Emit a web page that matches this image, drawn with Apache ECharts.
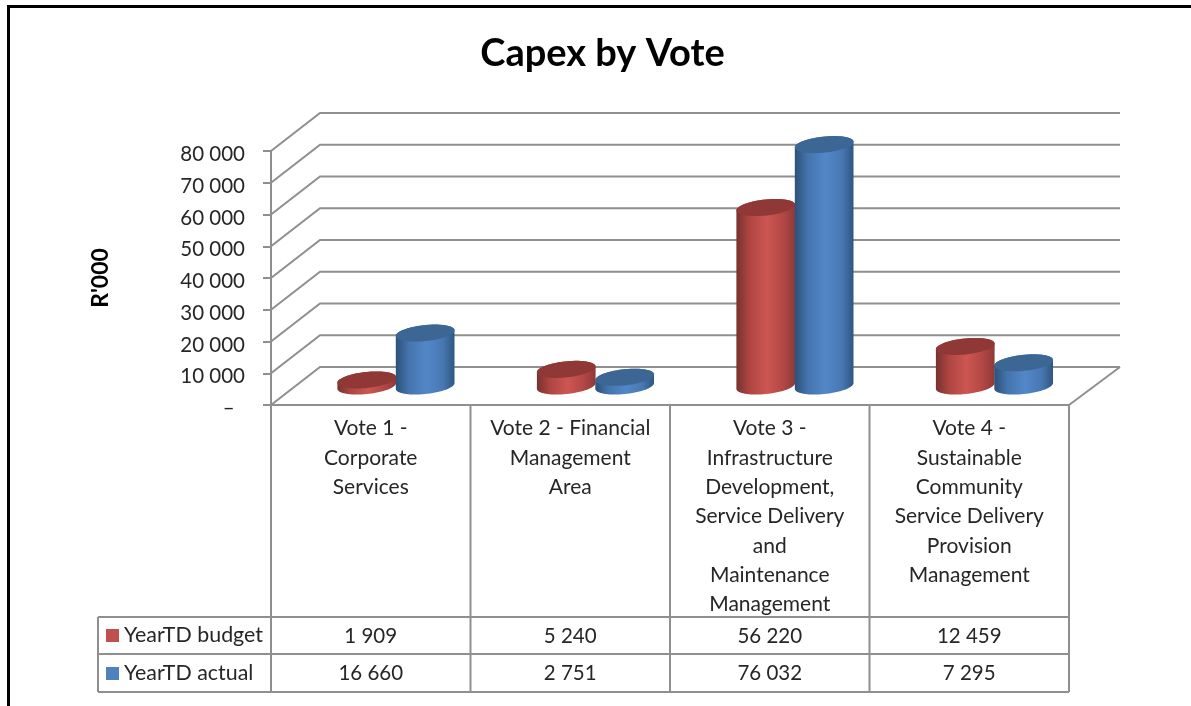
<!DOCTYPE html>
<html>
<head>
<meta charset="utf-8">
<title>Capex by Vote</title>
<script src="https://cdn.jsdelivr.net/npm/echarts@6/dist/echarts.min.js"></script>
<style>
html,body{margin:0;padding:0;background:#fff;}
#chart{width:1191px;height:706px;}
</style>
</head>
<body>
<div id="chart"></div>
<script>
// Vote categories, as wrapped in the table header cells
var categories = [
  'Vote 1 -\nCorporate\nServices',
  'Vote 2 - Financial\nManagement\nArea',
  'Vote 3 -\nInfrastructure\nDevelopment,\nService Delivery\nand\nMaintenance\nManagement',
  'Vote 4 -\nSustainable\nCommunity\nService Delivery\nProvision\nManagement'
];
var budget = [1909, 5240, 56220, 12459];
var actual = [16660, 2751, 76032, 7295];
var yTicks = [0, 10000, 20000, 30000, 40000, 50000, 60000, 70000, 80000];
var seriesNames = ['YearTD budget', 'YearTD actual'];

var FONT = 'Lato, "Open Sans", sans-serif';
var GRID_COLOR = '#8f8f8f';
var TEXT_COLOR = '#262626';

// Oblique projection of the chart box: how far the back wall sits from the front plane
var DEPTH_X = 49, DEPTH_Y = -38;
// Table rows hanging below the category header cells (pixels below the floor line)
var ROW_LINES = [212, 249, 287];
var ROW_CENTRES = [231, 268.5];
var TABLE_LEFT_GAP = 173;

// Cylinder look
var RX = 29.5, RY = 8, TILT = -6 * Math.PI / 180;
var RED = {
  top: '#8f3836',
  stops: [[0, '#773130'], [0.22, '#ae4541'], [0.52, '#cd5651'], [0.8, '#b14744'], [1, '#8e3a38']]
};
var BLUE = {
  top: '#3c6694',
  stops: [[0, '#2d5078'], [0.22, '#4474ad'], [0.52, '#5287c8'], [0.8, '#4878b3'], [1, '#2f5681']]
};

function fmt(v) {
  return String(v).replace(/\B(?=(\d{3})+$)/g, ' ');
}

function bandEdges(api, i) {
  var c = api.coord([i, 0]);
  var w = api.size([1, 0])[0];
  return { left: c[0] - w / 2, right: c[0] + w / 2, centre: c[0], y: c[1] };
}

function ellipsePoint(cx, cy, t) {
  var ex = RX * Math.cos(t), ey = RY * Math.sin(t);
  return [
    cx + ex * Math.cos(TILT) - ey * Math.sin(TILT),
    cy + ex * Math.sin(TILT) + ey * Math.cos(TILT)
  ];
}

function cylinderRenderer(look, side) {
  return function (params, api) {
    var base = api.coord([api.value(0), 0]);
    var head = api.coord([api.value(0), api.value(1)]);
    var cx = base[0] + DEPTH_X / 2 + 0.7 + side * RX * 0.99;
    var by = base[1] + DEPTH_Y / 2;
    var ty = head[1] + DEPTH_Y / 2;
    var t0 = Math.atan2(-RY * Math.sin(TILT), RX * Math.cos(TILT));
    var body = [], cap = [], n = 36, k;
    for (k = 0; k <= n; k++) body.push(ellipsePoint(cx, by, t0 + Math.PI * k / n));
    for (k = 0; k <= n; k++) body.push(ellipsePoint(cx, ty, t0 + Math.PI + Math.PI * k / n));
    for (k = 0; k < n * 2; k++) cap.push(ellipsePoint(cx, ty, Math.PI * k / n));
    return {
      type: 'group',
      children: [
        {
          type: 'polygon',
          shape: { points: body },
          style: {
            fill: {
              type: 'linear', x: 0, y: 0, x2: 1, y2: 0,
              colorStops: look.stops.map(function (s) { return { offset: s[0], color: s[1] }; })
            }
          }
        },
        { type: 'polygon', shape: { points: cap }, style: { fill: look.top } }
      ]
    };
  };
}

var lineStyle = { stroke: GRID_COLOR, lineWidth: 2, fill: null };

// One gridline per tick: front edge, receding side wall, back wall
function renderGridline(params, api) {
  var v = api.value(0);
  var a = bandEdges(api, 0), b = bandEdges(api, categories.length - 1);
  var y = api.coord([0, v])[1];
  var pts = [[a.left, y], [a.left + DEPTH_X, y + DEPTH_Y], [b.right + DEPTH_X + 2, y + DEPTH_Y]];
  var children = [{ type: 'polyline', shape: { points: pts }, style: lineStyle }];
  if (v === 0) {
    children.push({
      type: 'polyline',
      shape: { points: [[b.right, y], [b.right + DEPTH_X + 2, y + DEPTH_Y]] },
      style: lineStyle
    });
  }
  return { type: 'group', children: children };
}

// Data table: cell borders below the floor of the chart
function renderTableFrame(params, api) {
  var a = bandEdges(api, 0), b = bandEdges(api, categories.length - 1);
  var y0 = a.y, children = [];
  function seg(x1, y1, x2, y2) {
    children.push({ type: 'line', shape: { x1: x1, y1: y1, x2: x2, y2: y2 }, style: lineStyle });
  }
  categories.forEach(function (c, i) {
    var e = bandEdges(api, i);
    seg(e.left, y0, e.left, y0 + ROW_LINES[2]);
  });
  seg(b.right, y0, b.right, y0 + ROW_LINES[2]);
  var tableLeft = a.left - TABLE_LEFT_GAP;
  seg(tableLeft, y0 + ROW_LINES[0], tableLeft, y0 + ROW_LINES[2]);
  ROW_LINES.forEach(function (d) { seg(tableLeft, y0 + d, b.right, y0 + d); });
  return { type: 'group', children: children };
}

// Data table: one value cell per [category, row, value]
function renderTableCell(params, api) {
  var e = bandEdges(api, api.value(0));
  return {
    type: 'text',
    style: {
      x: e.centre,
      y: e.y + ROW_CENTRES[api.value(1)],
      text: fmt(api.value(2)),
      align: 'center',
      verticalAlign: 'middle',
      fill: TEXT_COLOR,
      font: '20.5px ' + FONT
    }
  };
}

var cells = [];
budget.forEach(function (v, i) { cells.push([i, 0, v]); });
actual.forEach(function (v, i) { cells.push([i, 1, v]); });

var chart = echarts.init(document.getElementById('chart'), null, { renderer: 'canvas' });
chart.setOption({
  animation: false,
  backgroundColor: '#fff',
  title: {
    text: 'Capex by Vote',
    left: 597.5,
    top: 30,
    textAlign: 'center',
    textStyle: { fontFamily: FONT, fontSize: 38, fontWeight: 'bold', color: '#000' }
  },
  legend: {
    orient: 'vertical',
    left: 106,
    top: 625,
    padding: 0,
    itemWidth: 13,
    itemHeight: 13,
    itemGap: 17,
    icon: 'rect',
    selectedMode: false,
    data: seriesNames,
    textStyle: { fontFamily: FONT, fontSize: 21.4, color: TEXT_COLOR }
  },
  grid: { left: 271, right: 122, top: 151, bottom: 301, containLabel: false },
  xAxis: {
    type: 'category',
    data: categories,
    axisTick: { show: false },
    axisLine: { show: true, lineStyle: { color: GRID_COLOR, width: 2 } },
    axisLabel: {
      interval: 0,
      margin: 9,
      fontFamily: FONT,
      fontSize: 21,
      lineHeight: 29.3,
      color: TEXT_COLOR,
      verticalAlign: 'top'
    }
  },
  yAxis: {
    type: 'value',
    min: 0,
    max: 80000,
    interval: 10000,
    name: "R'000",
    nameLocation: 'middle',
    nameRotate: 90,
    nameGap: 159,
    nameTextStyle: { fontFamily: FONT, fontSize: 23, fontWeight: 'bold', color: '#000' },
    axisLine: { show: true, lineStyle: { color: GRID_COLOR, width: 2 } },
    axisTick: { show: true, length: 8, lineStyle: { color: GRID_COLOR, width: 2 } },
    splitLine: { show: false },
    axisLabel: {
      margin: 26,
      fontFamily: FONT,
      fontSize: 20.5,
      color: TEXT_COLOR,
      verticalAlign: 'top',
      lineHeight: 7,
      formatter: function (v) { return v === 0 ? '–\u2002' : fmt(v); }
    }
  },
  series: [
    {
      type: 'custom',
      name: 'walls',
      silent: true,
      z: 1,
      data: yTicks.map(function (v) { return [v]; }),
      encode: { y: 0 },
      renderItem: renderGridline
    },
    {
      type: 'custom',
      name: 'table',
      silent: true,
      z: 1,
      data: [[0]],
      renderItem: renderTableFrame
    },
    {
      type: 'custom',
      name: 'cells',
      silent: true,
      z: 3,
      data: cells,
      encode: { x: 0 },
      renderItem: renderTableCell
    },
    {
      type: 'custom',
      name: seriesNames[0],
      z: 4,
      itemStyle: { color: '#c0504d' },
      data: budget.map(function (v, i) { return [i, v]; }),
      encode: { x: 0, y: 1 },
      renderItem: cylinderRenderer(RED, -1)
    },
    {
      type: 'custom',
      name: seriesNames[1],
      z: 5,
      itemStyle: { color: '#4f81bd' },
      data: actual.map(function (v, i) { return [i, v]; }),
      encode: { x: 0, y: 1 },
      renderItem: cylinderRenderer(BLUE, 1)
    }
  ],
  // Outer picture frame, open on the right and at the bottom
  graphic: [
    { type: 'rect', silent: true, shape: { x: 7, y: 5, width: 1184, height: 3 }, style: { fill: '#000' } },
    { type: 'rect', silent: true, shape: { x: 7, y: 5, width: 3, height: 701 }, style: { fill: '#000' } }
  ]
});
</script>
</body>
</html>
